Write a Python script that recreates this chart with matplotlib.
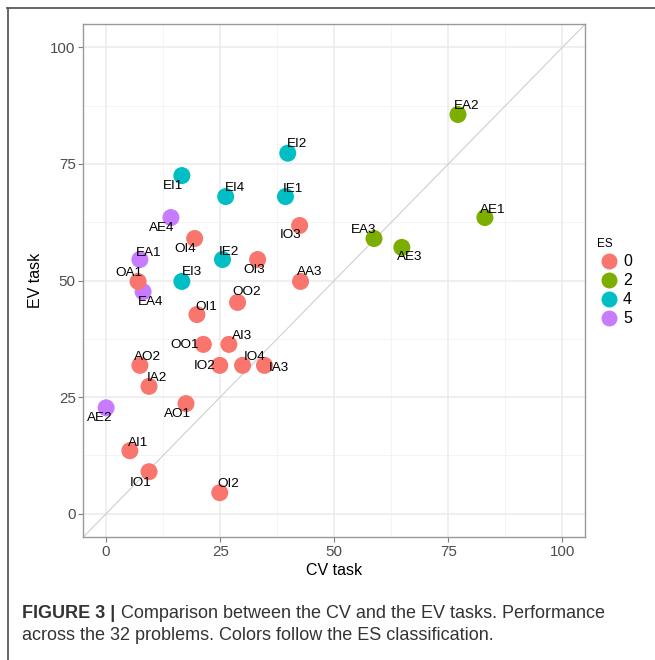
import matplotlib.pyplot as plt
import matplotlib.lines as mlines
import numpy as np

# data
problems = ["EA2", "AE1", "EA3", "AE3",
            "EI2", "EI1", "EI4", "IE1", "IE2", "EI3",
            "AE4", "EA1", "EA4", "AE2",
            "IO3", "OI4", "OI3", "OA1", "AA3", "OO2", "OI1", "OO1", "AI3",
            "AO2", "IO2", "IO4", "IA3", "IA2", "AO1", "AI1", "IO1", "OI2"]
cv_task = [77.1, 83.0, 58.7, 64.8,
           39.8, 16.6, 26.2, 39.3, 25.5, 16.6,
           14.2, 7.4, 8.1, 0.0,
           42.4, 19.4, 33.2, 7.0, 42.6, 28.8, 19.9, 21.3, 26.9,
           7.4, 24.9, 29.9, 34.7, 9.4, 17.5, 5.2, 9.4, 24.9]
ev_task = [85.6, 63.5, 59.0, 57.1,
           77.3, 72.5, 68.0, 68.0, 54.5, 49.8,
           63.5, 54.5, 47.6, 22.7,
           61.8, 59.0, 54.5, 49.8, 49.8, 45.3, 42.7, 36.3, 36.3,
           31.8, 31.8, 31.8, 31.8, 27.3, 23.6, 13.5, 9.0, 4.5]
es_class = [2, 2, 2, 2,
            4, 4, 4, 4, 4, 4,
            5, 5, 5, 5,
            0, 0, 0, 0, 0, 0, 0, 0, 0,
            0, 0, 0, 0, 0, 0, 0, 0, 0]
es_levels = [0, 2, 4, 5]
es_colors = {0: "#F8766D", 2: "#7CAE00", 4: "#00BFC4", 5: "#C77CFF"}

# label offsets in pixels (dx right, dy down), like ggrepel placed them
label_offsets = {
    "EA2": (9, -8), "AE1": (8, -8), "EA3": (-10, -9), "AE3": (8, 10),
    "EI2": (9, -9), "EI1": (-9, 10), "EI4": (9, -9), "IE1": (7, -8),
    "IE2": (6, -8), "EI3": (10, -9), "AE4": (-9, 10), "EA1": (9, -7),
    "EA4": (8, 10), "AE2": (-6, 10), "IO3": (-9, 10), "OI4": (-9, 10),
    "OI3": (-3, 10), "OA1": (-9, -8), "AA3": (9, -9), "OO2": (9, -10),
    "OI1": (9, -8), "OO1": (-19, 1), "AI3": (13, -8), "AO2": (8, -8),
    "IO2": (-15, 1), "IO4": (12, -8), "IA3": (14, 3), "IA2": (8, -8),
    "AO1": (-9, 10), "AI1": (8, -8), "IO1": (-8, 11), "OI2": (9, -9),
}

plt.rcParams['font.family'] = ['Liberation Sans', 'DejaVu Sans']

W, H = 655, 660
fig = plt.figure(figsize=(W / 100, H / 100), dpi=100)
ax = fig.add_axes([83.3 / W, (H - 537) / H, 502 / W, 513 / H])

ax.set_xlim(-5, 105)
ax.set_ylim(-5, 105)

# grid (theme_bw style)
major = [0, 25, 50, 75, 100]
minor = [-12.5 + 25 * k for k in range(6)]
for v in minor:
    ax.axvline(v, color="#F2F2F2", lw=0.6, zorder=0)
    ax.axhline(v, color="#F2F2F2", lw=0.6, zorder=0)
for v in major:
    ax.axvline(v, color="#EBEBEB", lw=1.1, zorder=0)
    ax.axhline(v, color="#EBEBEB", lw=1.1, zorder=0)

# identity line
ax.plot([-5, 105], [-5, 105], color="#CFCFCF", lw=0.8, zorder=1)

cols = [es_colors[c] for c in es_class]
ax.scatter(cv_task, ev_task, s=150, c=cols, edgecolors="none", zorder=3)

for name, x, y in zip(problems, cv_task, ev_task):
    dx, dy = label_offsets[name]
    ax.annotate(name, (x, y), xytext=(dx * 0.72, -dy * 0.72),
                textcoords="offset points", ha="center", va="center",
                fontsize=9.7, color="black", zorder=4)

ax.set_xticks(major)
ax.set_yticks(major)
ax.tick_params(colors="#7F7F7F", labelcolor="#4D4D4D", labelsize=10.9,
               length=3.5, width=0.8, pad=2)
for sp in ax.spines.values():
    sp.set_color("#9A9A9A")
    sp.set_linewidth(1.0)

ax.set_xlabel("CV task", fontsize=11.5, labelpad=3)
ax.set_ylabel("EV task", fontsize=11.5, labelpad=5)

# legend
handles = [mlines.Line2D([], [], marker="o", ls="none", markersize=11.5,
                         markerfacecolor=es_colors[l], markeredgecolor="none",
                         label=str(l)) for l in es_levels]
leg = fig.legend(handles=handles, title="ES", loc="upper left",
                 bbox_to_anchor=(591 / W, 1 - 232 / H), frameon=False,
                 fontsize=11.5, title_fontsize=8.5, handletextpad=0.2,
                 labelspacing=0.25, borderaxespad=0, handlelength=1.4)
leg._legend_box.align = "left"

# outer frame
fig.add_artist(mlines.Line2D([7 / W, 1], [1 - 7.5 / H, 1 - 7.5 / H],
                             color="#5A5A5A", lw=1.3))
fig.add_artist(mlines.Line2D([7.5 / W, 7.5 / W], [0, 1 - 7.5 / H],
                             color="#5A5A5A", lw=1.3))

# caption
t1 = fig.text(22 / W, 1 - 614 / H, "FIGURE 3 |", fontsize=13, fontweight="bold",
              va="center", ha="left", color="#333333")
fig.canvas.draw()
bb = t1.get_window_extent()
fig.text((bb.x1 + 6) / W, 1 - 614 / H,
         "Comparison between the CV and the EV tasks. Performance",
         fontsize=13, va="center", ha="left", color="#333333")
fig.text(22 / W, 1 - 636 / H,
         "across the 32 problems. Colors follow the ES classification.",
         fontsize=13, va="center", ha="left", color="#333333")

fig.savefig("out.png", dpi=100)
